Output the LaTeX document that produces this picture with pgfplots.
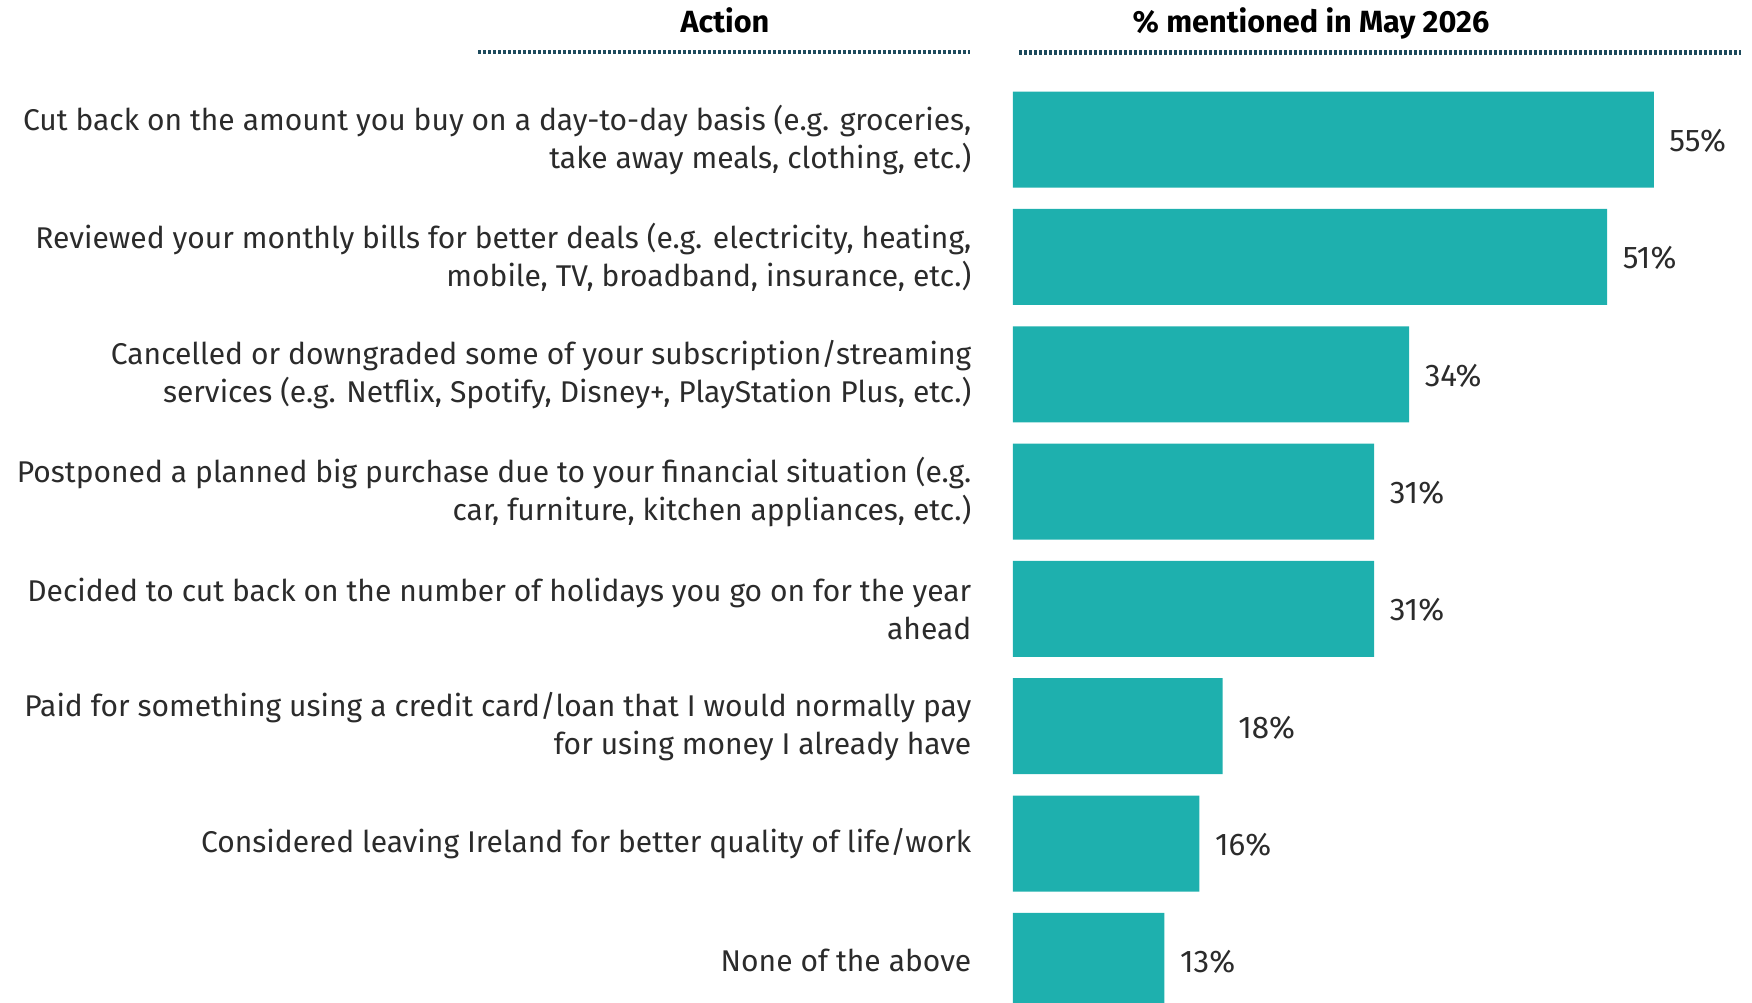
\documentclass[border=0pt]{standalone}
\usepackage{pgfplots}
\pgfplotsset{compat=1.18}
\usepackage{fontspec}
\setmainfont{Fira Sans}
\definecolor{barc}{HTML}{1EB0AE}
\definecolor{dotc}{HTML}{1D4A5C}
\definecolor{txt}{HTML}{2B2B2B}
\begin{document}
\begin{tikzpicture}
\path[use as bounding box] (0,0) rectangle (525.6pt,-300.6pt);
\begin{axis}[
  at={(303.9pt,-300.6pt)}, anchor=south west,
  scale only axis, width=221.7pt, height=276.3pt,
  xmin=0, xmax=63.43, ymin=-0.5, ymax=7.351, y dir=reverse,
  xbar, bar width=28.8pt, bar shift=0pt,
  axis line style={draw=none}, major tick length=0pt,
  xtick=\empty, ytick={0,...,7},
  yticklabels={
    {Cut back on the amount you buy on a day-to-day basis (e.g. groceries,\\ take away meals, clothing, etc.)},
    {Reviewed your monthly bills for better deals (e.g. electricity, heating,\\ mobile, TV, broadband, insurance, etc.)},
    {Cancelled or downgraded some of your subscription/streaming\\ services (e.g. Netflix, Spotify, Disney+, PlayStation Plus, etc.)},
    {Postponed a planned big purchase due to your financial situation (e.g.\\ car, furniture, kitchen appliances, etc.)},
    {Decided to cut back on the number of holidays you go on for the year\\ ahead},
    {Paid for something using a credit card/loan that I would normally pay\\ for using money I already have},
    {Considered leaving Ireland for better quality of life/work},
    {None of the above}},
  yticklabel style={align=right, inner sep=0pt, xshift=-12.3pt, text=txt,
    font=\fontsize{9}{11.4}\selectfont},
  nodes near coords={\pgfplotspointmeta\%},
  point meta=explicit symbolic,
  nodes near coords style={anchor=west, inner sep=0pt, xshift=4.5pt, yshift=-0.4pt, text=txt,
    font=\fontsize{9.4}{11.4}\selectfont},
  clip=false,
]
\addplot[fill=barc, draw=none] coordinates {
  (55,0) [55] (51,1) [51] (34,2) [34] (31,3) [31] (31,4) [31] (18,5) [18] (16,6) [16] (13,7) [13]};
\end{axis}
\node[anchor=base, inner sep=0pt, font=\fontsize{9.2}{11}\selectfont\bfseries, text=black] at (217.5pt,-9.6pt) {Action};
\node[anchor=base, inner sep=0pt, font=\fontsize{9.2}{11}\selectfont\bfseries, text=black] at (393.3pt,-9.6pt) {\% mentioned in May 2026};
\draw[dotc, line width=1.3pt, dash pattern=on 0.9pt off 0.6pt] (143.4pt,-15.6pt) -- (291pt,-15.6pt);
\draw[dotc, line width=1.3pt, dash pattern=on 0.9pt off 0.6pt] (305.7pt,-15.7pt) -- (522.3pt,-15.7pt);
\end{tikzpicture}
\end{document}
